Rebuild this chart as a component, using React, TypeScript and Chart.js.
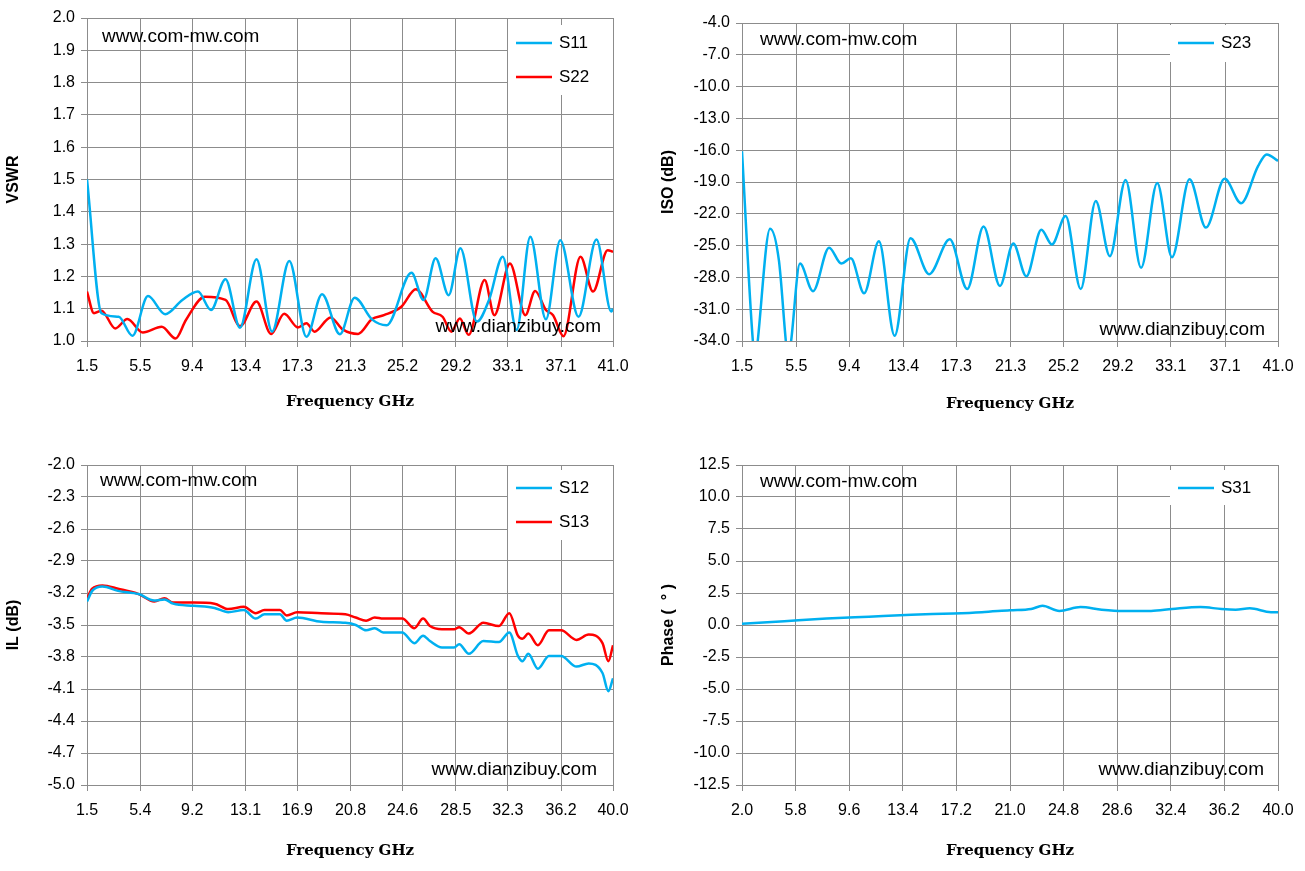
import React, { useEffect, useRef } from "react";
import { Chart, registerables } from "chart.js";
Chart.register(...registerables);

const BLUE = "#00B0F0";
const RED = "#FF0000";

// Top-left: VSWR
const tlXTicks = [1.5, 5.5, 9.4, 13.4, 17.3, 21.3, 25.2, 29.2, 33.1, 37.1, 41.0];
const tlYTicks = [1.0, 1.1, 1.2, 1.3, 1.4, 1.5, 1.6, 1.7, 1.8, 1.9, 2.0];
const s11F = [1.5, 2.59, 3.88, 4.91, 6.08, 7.37, 8.66, 9.83, 10.81, 11.9, 12.99, 14.23, 15.4, 16.69, 17.98, 19.15, 20.49, 21.6, 22.9, 24.0, 25.87, 26.77, 27.68, 28.66, 29.54, 30.78, 31.69, 32.72, 33.76, 34.79, 35.96, 37.04, 38.41, 39.76, 40.87, 41.0];
const s11V = [1.5, 1.086, 1.075, 1.016, 1.139, 1.083, 1.127, 1.153, 1.096, 1.191, 1.041, 1.253, 1.029, 1.248, 1.013, 1.145, 1.021, 1.134, 1.067, 1.049, 1.211, 1.127, 1.256, 1.142, 1.287, 1.06, 1.127, 1.261, 1.034, 1.323, 1.067, 1.312, 1.075, 1.314, 1.091, 1.1];
const s22F = [1.5, 2.02, 2.59, 3.62, 4.53, 5.69, 7.11, 8.15, 8.93, 10.35, 11.9, 12.99, 14.23, 15.32, 16.31, 17.34, 17.98, 18.58, 19.79, 20.7, 21.86, 22.9, 23.8, 25.1, 26.2, 27.44, 28.2, 28.86, 29.5, 30.16, 31.36, 32.09, 33.26, 34.42, 35.15, 35.96, 36.5, 37.28, 38.56, 39.5, 40.6, 41.0];
const s22V = [1.153, 1.086, 1.094, 1.039, 1.068, 1.026, 1.044, 1.008, 1.065, 1.137, 1.127, 1.046, 1.122, 1.022, 1.084, 1.042, 1.055, 1.029, 1.073, 1.036, 1.022, 1.068, 1.08, 1.106, 1.16, 1.091, 1.075, 1.029, 1.07, 1.019, 1.189, 1.08, 1.24, 1.08, 1.155, 1.096, 1.08, 1.015, 1.261, 1.153, 1.281, 1.276];

// Top-right: ISO
const trXTicks = tlXTicks;
const trYTicks = [-34, -31, -28, -25, -22, -19, -16, -13, -10, -7, -4];
const s23F = [1.5, 2.3, 2.5, 2.66, 3.57, 4.22, 4.73, 4.9, 5.12, 5.77, 6.73, 7.92, 8.82, 9.52, 10.5, 11.59, 12.75, 13.92, 15.29, 16.81, 18.1, 19.3, 20.51, 21.49, 22.45, 23.56, 24.34, 25.35, 26.46, 27.57, 28.61, 29.77, 30.91, 32.1, 33.19, 34.48, 35.69, 37.07, 38.28, 39.53, 40.17, 41.0];
const s23V = [-16.1, -34, -36, -34, -23.4, -26.4, -34, -36, -34, -26.7, -29.3, -25.2, -26.7, -26.2, -29.5, -24.6, -33.5, -24.3, -27.7, -24.4, -29.1, -23.2, -28.8, -24.8, -27.9, -23.5, -24.9, -22.2, -29.1, -20.8, -26.0, -18.8, -27.1, -19.1, -26.1, -18.75, -23.3, -18.7, -21.0, -17.5, -16.4, -17.0];

// Bottom-left: IL
const blXTicks = [1.5, 5.4, 9.2, 13.1, 16.9, 20.8, 24.6, 28.5, 32.3, 36.2, 40.0];
const blYTicks = [-5.0, -4.7, -4.4, -4.1, -3.8, -3.5, -3.2, -2.9, -2.6, -2.3, -2.0];
const ilF = [1.5, 1.88, 2.63, 3.77, 5.28, 6.42, 7.17, 7.8, 9.32, 10.83, 11.84, 12.97, 13.85, 14.49, 15.62, 16.12, 16.88, 18.65, 20.41, 21.17, 21.93, 22.56, 23.18, 24.57, 25.46, 26.1, 26.6, 27.48, 28.37, 28.74, 29.45, 30.51, 31.65, 32.41, 33.04, 33.37, 33.8, 34.5, 35.31, 36.2, 37.33, 38.22, 39.23, 39.66, 40.0];
const s12V = [-3.28, -3.18, -3.14, -3.18, -3.21, -3.27, -3.26, -3.30, -3.32, -3.34, -3.38, -3.36, -3.44, -3.40, -3.40, -3.46, -3.43, -3.47, -3.48, -3.50, -3.55, -3.53, -3.57, -3.57, -3.67, -3.60, -3.65, -3.71, -3.71, -3.68, -3.77, -3.65, -3.66, -3.57, -3.79, -3.84, -3.77, -3.91, -3.79, -3.79, -3.89, -3.86, -3.95, -4.12, -4.0];
const s13V = [-3.25, -3.16, -3.13, -3.16, -3.21, -3.28, -3.25, -3.29, -3.29, -3.30, -3.35, -3.33, -3.39, -3.36, -3.36, -3.41, -3.38, -3.39, -3.40, -3.43, -3.46, -3.43, -3.44, -3.44, -3.53, -3.44, -3.51, -3.54, -3.54, -3.52, -3.58, -3.48, -3.51, -3.39, -3.60, -3.63, -3.58, -3.69, -3.55, -3.55, -3.64, -3.59, -3.67, -3.84, -3.69];

// Bottom-right: Phase
const brXTicks = [2.0, 5.8, 9.6, 13.4, 17.2, 21.0, 24.8, 28.6, 32.4, 36.2, 40.0];
const brYTicks = [-12.5, -10.0, -7.5, -5.0, -2.5, 0.0, 2.5, 5.0, 7.5, 10.0, 12.5];
const s31F = [2.0, 5.0, 8.0, 11.0, 14.0, 17.0, 19.0, 21.0, 22.5, 23.3, 24.5, 26.0, 27.5, 29.0, 31.0, 32.5, 34.5, 36.0, 37.0, 38.0, 39.5, 40.0];
const s31V = [0.1, 0.3, 0.5, 0.65, 0.8, 0.9, 1.0, 1.15, 1.25, 1.5, 1.1, 1.4, 1.2, 1.1, 1.1, 1.25, 1.4, 1.25, 1.2, 1.3, 1.0, 1.0];

const pts = (f: number[], v: number[]) => f.map((x, i) => ({ x, y: v[i] }));

type Panel = {
  left: number; top: number; width: number; height: number;
  area: { l: number; r: number; t: number; b: number }; titleBottom: number;
  xTicks: number[]; yTicks: number[]; yDec: number; yTitle: string;
  series: { label: string; color: string; data: { x: number; y: number }[] }[];
  legendBox: { x: number; y: number; w: number; h: number };
  mw: { x: number; y: number }; dz: { x: number; y: number };
};

const panels: Panel[] = [
  {
    left: 0, top: 0, width: 640, height: 430, area: { l: 87, r: 613, t: 18, b: 341 }, titleBottom: 411,
    xTicks: tlXTicks, yTicks: tlYTicks, yDec: 1, yTitle: "VSWR",
    series: [{ label: "S11", color: BLUE, data: pts(s11F, s11V) }, { label: "S22", color: RED, data: pts(s22F, s22V) }],
    legendBox: { x: 508, y: 25, w: 105, h: 70 }, mw: { x: 102, y: 37 }, dz: { x: 601, y: 327 },
  },
  {
    left: 655, top: 0, width: 650, height: 430, area: { l: 742, r: 1278, t: 23, b: 341 }, titleBottom: 413,
    xTicks: trXTicks, yTicks: trYTicks, yDec: 1, yTitle: "ISO (dB)",
    series: [{ label: "S23", color: BLUE, data: pts(s23F, s23V) }],
    legendBox: { x: 1170, y: 25, w: 108, h: 37 }, mw: { x: 760, y: 40 }, dz: { x: 1265, y: 330 },
  },
  {
    left: 0, top: 440, width: 640, height: 430, area: { l: 87, r: 613, t: 465, b: 785 }, titleBottom: 860,
    xTicks: blXTicks, yTicks: blYTicks, yDec: 1, yTitle: "IL (dB)",
    series: [{ label: "S12", color: BLUE, data: pts(ilF, s12V) }, { label: "S13", color: RED, data: pts(ilF, s13V) }],
    legendBox: { x: 508, y: 470, w: 105, h: 70 }, mw: { x: 100, y: 481 }, dz: { x: 597, y: 770 },
  },
  {
    left: 655, top: 440, width: 650, height: 430, area: { l: 742, r: 1278, t: 465, b: 785 }, titleBottom: 860,
    xTicks: brXTicks, yTicks: brYTicks, yDec: 1, yTitle: "Phase (  ° )",
    series: [{ label: "S31", color: BLUE, data: pts(s31F, s31V) }],
    legendBox: { x: 1170, y: 470, w: 108, h: 35 }, mw: { x: 760, y: 482 }, dz: { x: 1264, y: 770 },
  },
];

function PanelChart({ p }: { p: Panel }) {
  const ref = useRef<HTMLCanvasElement>(null);
  useEffect(() => {
    const ox = p.left, oy = p.top;
    const a = { l: p.area.l - ox, r: p.area.r - ox, t: p.area.t - oy, b: p.area.b - oy };
    const tb = p.titleBottom - oy;
    const overlay = {
      id: "overlay",
      afterDatasetsDraw(chart: any) {
        const ctx = chart.ctx as CanvasRenderingContext2D;
        ctx.save();
        ctx.font = "19px 'Liberation Sans', Arial, sans-serif";
        ctx.fillStyle = "#000";
        ctx.textBaseline = "middle";
        ctx.textAlign = "left";
        ctx.fillText("www.com-mw.com", p.mw.x - ox, p.mw.y - oy);
        ctx.textAlign = "right";
        ctx.fillText("www.dianzibuy.com", p.dz.x - ox, p.dz.y - oy);
        const lb = p.legendBox;
        ctx.fillStyle = "#fff";
        ctx.fillRect(lb.x - ox, lb.y - oy, lb.w, lb.h);
        ctx.font = "17px 'Liberation Sans', Arial, sans-serif";
        ctx.textAlign = "left";
        p.series.forEach((s, i) => {
          const y = lb.y - oy + 18 + i * 34;
          ctx.strokeStyle = s.color;
          ctx.lineWidth = 2.5;
          ctx.beginPath();
          ctx.moveTo(lb.x - ox + 8, y);
          ctx.lineTo(lb.x - ox + 44, y);
          ctx.stroke();
          ctx.fillStyle = "#000";
          ctx.fillText(s.label, lb.x - ox + 51, y);
        });
        ctx.restore();
      },
    };
    const tickFont = { family: "'Liberation Sans', Arial, sans-serif", size: 16 };
    const chart = new Chart(ref.current!, {
      type: "line",
      data: {
        datasets: p.series.map((s) => ({
          label: s.label, data: s.data, borderColor: s.color, backgroundColor: s.color,
          borderWidth: 2.5, pointRadius: 0, tension: 0.4, cubicInterpolationMode: "monotone" as const,
        })),
      },
      options: {
        animation: false, responsive: false,
        layout: { padding: { top: a.t, right: p.width - a.r, left: 0, bottom: p.height - tb } },
        plugins: { legend: { display: false }, tooltip: { enabled: false } },
        scales: {
          x: {
            type: "linear", min: p.xTicks[0], max: p.xTicks[p.xTicks.length - 1],
            afterBuildTicks: (s: any) => { s.ticks = p.xTicks.map((v) => ({ value: v })); },
            afterFit: (s: any) => { s.height = tb - a.b; },
            ticks: { color: "#000", font: tickFont, padding: 10, autoSkip: false, maxRotation: 0,
              callback: (v: any) => Number(v).toFixed(1) },
            grid: { color: "#8c8c8c", lineWidth: 1, tickLength: 6 },
            border: { color: "#8c8c8c" },
            title: { display: true, text: "Frequency GHz", color: "#000", padding: { top: 0, bottom: 0 },
              font: { family: "'DejaVu Serif', serif", size: 15, weight: "bold" } },
          },
          y: {
            type: "linear", min: p.yTicks[0], max: p.yTicks[p.yTicks.length - 1],
            afterBuildTicks: (s: any) => { s.ticks = p.yTicks.map((v) => ({ value: v })); },
            afterFit: (s: any) => { s.width = a.l; },
            ticks: { color: "#000", font: tickFont, padding: 6, autoSkip: false,
              callback: (v: any) => Number(v).toFixed(p.yDec) },
            grid: { color: "#8c8c8c", lineWidth: 1, tickLength: 6 },
            border: { color: "#8c8c8c" },
            title: { display: true, text: p.yTitle, color: "#000", padding: { bottom: 4 },
              font: { family: "'Liberation Sans', Arial, sans-serif", size: 16, weight: "bold" } },
          },
        },
      } as any,
      plugins: [overlay],
    });
    return () => chart.destroy();
  }, []);
  return (
    <canvas ref={ref} width={p.width} height={p.height}
      style={{ position: "absolute", left: p.left, top: p.top, width: p.width, height: p.height }} />
  );
}

export default function App() {
  return (
    <div style={{ position: "absolute", left: 0, top: 0, width: 1305, height: 871, background: "#fff" }}>
      {panels.map((p, i) => <PanelChart key={i} p={p} />)}
    </div>
  );
}
